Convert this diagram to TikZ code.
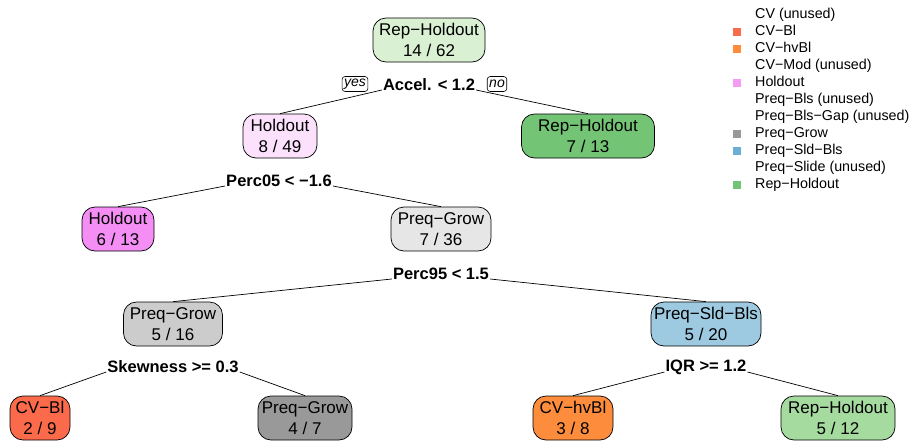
\documentclass[tikz,border=0pt]{standalone}
\usepackage{fontspec}
\setmainfont{Liberation Sans}
\definecolor{cRoot}{HTML}{D9F0D3}
\definecolor{cHold}{HTML}{FCE1FC}
\definecolor{cHoldB}{HTML}{F48EF4}
\definecolor{cRepM}{HTML}{74C476}
\definecolor{cRepL}{HTML}{A6DBA0}
\definecolor{cGrowL}{HTML}{E6E6E6}
\definecolor{cGrowM}{HTML}{CCCCCC}
\definecolor{cGrowD}{HTML}{999999}
\definecolor{cSld}{HTML}{9ECAE1}
\definecolor{cSldL}{HTML}{6BAED6}
\definecolor{cCVBl}{HTML}{FB6A4A}
\definecolor{cCVhv}{HTML}{FD8D3C}
\definecolor{cHoldL}{HTML}{F49CF4}
\begin{document}
\begin{tikzpicture}[x=1pt,y=-1pt,
  tnode/.style={draw, line width=0.7pt, rounded corners=13pt, align=center, inner sep=0pt,
    minimum height=44pt, font=\fontsize{17}{21}\selectfont},
  split/.style={font=\fontsize{16.5}{18}\selectfont\bfseries, inner sep=1pt},
  yn/.style={draw, line width=0.6pt, rounded corners=3pt, font=\fontsize{14}{15}\selectfont\itshape, inner sep=2pt, minimum height=15pt},
  leg/.style={anchor=west, font=\fontsize{14.3}{16}\selectfont, inner sep=0pt, text height=10.5pt, text depth=3pt},
  sq/.style={minimum size=8pt, inner sep=0pt},
  edge/.style={line width=0.7pt}]
\useasboundingbox (0,0) rectangle (911,442);
% nodes
\node[tnode, fill=cRoot, minimum width=112pt] (n1) at (429,40) {Rep−Holdout\\14 / 62};
\node[split] (s1) at (429,85) {Accel. < 1.2};
\node[yn] (yes) at (355,84) {yes};
\node[yn] (no) at (497,84) {no};
\node[tnode, fill=cHold, minimum width=74pt] (n2) at (280,136) {Holdout\\8 / 49};
\node[tnode, fill=cRepM, minimum width=133pt] (n3) at (588,136) {Rep−Holdout\\7 / 13};
\node[split] (s2) at (279,181) {Perc05 < −1.6};
\node[tnode, fill=cHoldB, minimum width=72pt] (n4) at (118,229) {Holdout\\6 / 13};
\node[tnode, fill=cGrowL, minimum width=100pt] (n5) at (441,229) {Preq−Grow\\7 / 36};
\node[split] (s5) at (441,274) {Perc95 < 1.5};
\node[tnode, fill=cGrowM, minimum width=99pt] (n6) at (173,324) {Preq−Grow\\5 / 16};
\node[tnode, fill=cSld, minimum width=110pt] (n7) at (706,324) {Preq−Sld−Bls\\5 / 20};
\node[split] (s6) at (173,367) {Skewness >= 0.3};
\node[split] (s7) at (706,367) {IQR >= 1.2};
\node[tnode, fill=cCVBl, minimum width=60pt] (n8) at (40,418) {CV−Bl\\2 / 9};
\node[tnode, fill=cGrowD, minimum width=94pt] (n9) at (305,418) {Preq−Grow\\4 / 7};
\node[tnode, fill=cCVhv, minimum width=80pt] (n10) at (573,418) {CV−hvBl\\3 / 8};
\node[tnode, fill=cRepL, minimum width=114pt] (n11) at (838,418) {Rep−Holdout\\5 / 12};
% edges
\draw[edge] ([yshift=-5pt]s1.west) -- (n2.north);
\draw[edge] ([yshift=-5pt]s1.east) -- (n3.north);
\draw[edge] ([yshift=-5pt]s2.west) -- (n4.north);
\draw[edge] ([yshift=-5pt]s2.east) -- (n5.north);
\draw[edge] ([yshift=-5pt]s5.west) -- (n6.north);
\draw[edge] ([yshift=-5pt]s5.east) -- (n7.north);
\draw[edge] ([yshift=-5pt]s6.west) -- (n8.north);
\draw[edge] ([yshift=-5pt]s6.east) -- (n9.north);
\draw[edge] ([yshift=-5pt]s7.west) -- (n10.north);
\draw[edge] ([yshift=-5pt]s7.east) -- (n11.north);
% legend
\node[leg] (l1) at (755,15) {CV (unused)};
\node[leg] (l2) at (755,32) {CV−Bl};
\node[leg] (l3) at (755,49) {CV−hvBl};
\node[leg] (l4) at (755,66) {CV−Mod (unused)};
\node[leg] (l5) at (755,83) {Holdout};
\node[leg] (l6) at (755,100) {Preq−Bls (unused)};
\node[leg] (l7) at (755,117) {Preq−Bls−Gap (unused)};
\node[leg] (l8) at (755,134) {Preq−Grow};
\node[leg] (l9) at (755,151) {Preq−Sld−Bls};
\node[leg] (l10) at (755,168) {Preq−Slide (unused)};
\node[leg] (l11) at (755,185) {Rep−Holdout};
\node[sq, fill=cCVBl] (q2) at (737,32) {};
\node[sq, fill=cCVhv] (q3) at (737,49) {};
\node[sq, fill=cHoldL] (q5) at (737,83) {};
\node[sq, fill=cGrowD] (q8) at (737,134) {};
\node[sq, fill=cSldL] (q9) at (737,151) {};
\node[sq, fill=cRepM] (q11) at (737,185) {};
\end{tikzpicture}
\end{document}
